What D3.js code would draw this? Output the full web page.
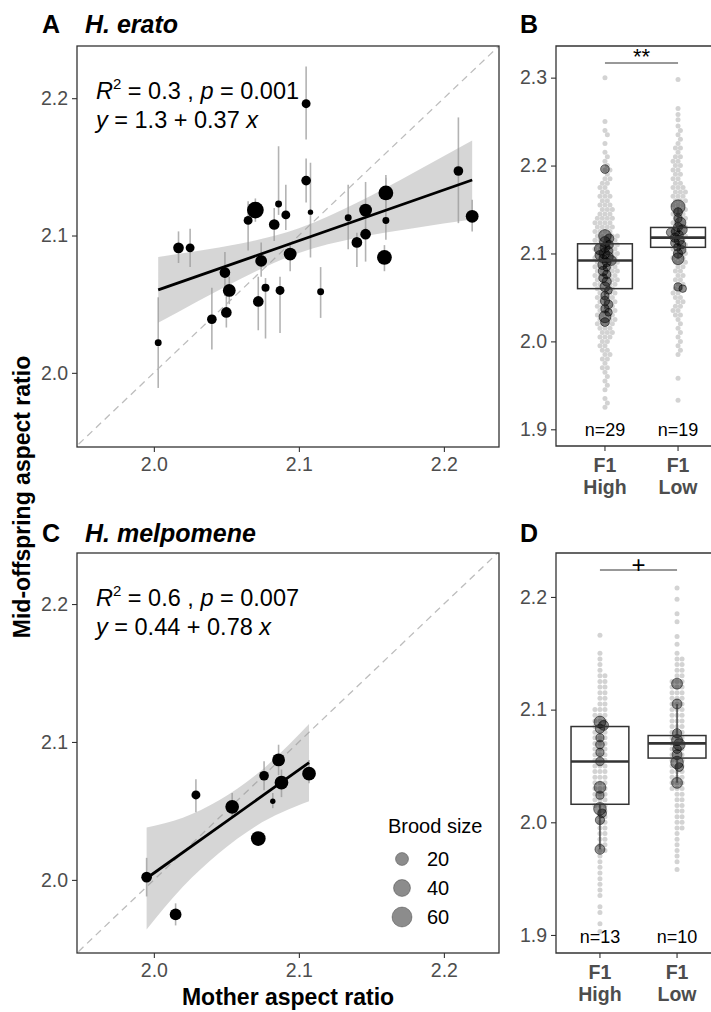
<!DOCTYPE html>
<html>
<head>
<meta charset="utf-8">
<script src="https://cdn.jsdelivr.net/npm/d3@7/dist/d3.min.js"></script>
<style>
  body { margin: 0; background: #fff; }
  svg { display: block; }
  text { font-family: "Liberation Sans", Arial, sans-serif; }
</style>
</head>
<body>
<svg id="fig" width="711" height="1012"></svg>
<script>
// ---------- Panel A: H. erato, family means (mother vs mid-offspring) ----------
const eratoMother    = [2.003, 2.017, 2.025, 2.040, 2.049, 2.050, 2.052, 2.065, 2.070, 2.072,
                        2.074, 2.077, 2.083, 2.086, 2.087, 2.091, 2.094, 2.105, 2.105, 2.108,
                        2.115, 2.134, 2.140, 2.146, 2.146, 2.159, 2.160, 2.160, 2.210, 2.2195];
const eratoOffspring = [2.022, 2.091, 2.091, 2.039, 2.073, 2.044, 2.060, 2.111, 2.1185, 2.052,
                        2.0815, 2.062, 2.108, 2.123, 2.060, 2.115, 2.0865, 2.196, 2.140, 2.117,
                        2.059, 2.113, 2.095, 2.1185, 2.101, 2.084, 2.111, 2.131, 2.147, 2.114];
const eratoLow       = [1.989, 2.080, 2.077, 2.017, 2.056, 2.033, 2.050, 2.089, 2.110, 2.031,
                        2.070, 2.025, 2.096, 2.115, 2.029, 2.104, 2.074, 2.170, 2.124, 2.084,
                        2.040, 2.090, 2.077, 2.104, 2.081, 2.074, 2.097, 2.120, 2.109, 2.103];
const eratoHigh      = [2.055, 2.103, 2.105, 2.062, 2.088, 2.056, 2.070, 2.125, 2.127, 2.070,
                        2.095, 2.069, 2.120, 2.165, 2.070, 2.137, 2.095, 2.223, 2.156, 2.153,
                        2.077, 2.137, 2.102, 2.139, 2.106, 2.093, 2.144, 2.142, 2.186, 2.126];
const eratoBrood     = [3, 12, 7, 9, 12, 12, 20, 7, 40, 12,
                        16, 5, 12, 3, 7, 7, 20, 7, 9, 1,
                        3, 3, 12, 20, 12, 29, 3, 29, 9, 20];
const eratoFitX  = [2.003, 2.2195];
const eratoFitY  = [2.0604, 2.1404];
const eratoBandX  = [2.003, 2.03, 2.06, 2.10, 2.14, 2.18, 2.2195];
const eratoBandLo = [2.0364, 2.0520, 2.0686, 2.0873, 2.0983, 2.1055, 2.1116];
const eratoBandHi = [2.0844, 2.0888, 2.0942, 2.1053, 2.1239, 2.1463, 2.1692];

// ---------- Panel C: H. melpomene ----------
const melpMother    = [1.995, 2.015, 2.029, 2.054, 2.072, 2.076, 2.086, 2.088, 2.082, 2.107];
const melpOffspring = [2.002, 1.975, 2.0616, 2.053, 2.030, 2.0755, 2.087, 2.0705, 2.057, 2.077];
const melpLow       = [1.988, 1.967, 2.049, 2.045, 2.030, 2.065, 2.076, 2.060, 2.052, 2.070];
const melpHigh      = [2.016, 1.983, 2.073, 2.063, 2.030, 2.086, 2.098, 2.080, 2.063, 2.087];
const melpBrood     = [12, 16, 7, 24, 29, 9, 20, 24, 1, 24];
const melpFitX  = [1.995, 2.107];
const melpFitY  = [2.0012, 2.085];
const melpBandX  = [1.995, 2.02, 2.045, 2.07, 2.107];
const melpBandLo = [1.964, 1.995, 2.0195, 2.0388, 2.057];
const melpBandHi = [2.038, 2.045, 2.0577, 2.0758, 2.113];

// ---------- Panels B and D: offspring (grey) and family means (dark) ----------
const groups = ['High', 'Low'];

// [value, number of offspring at that value]
const greyBHigh = [[2.300,1],[2.250,1],[2.240,1],[2.235,1],[2.225,1],[2.215,1],[2.210,1],[2.205,1],[2.200,1],
  [2.195,2],[2.190,1],[2.185,2],[2.180,2],[2.175,2],[2.170,2],[2.165,3],[2.160,2],[2.155,3],[2.150,3],
  [2.145,3],[2.140,4],[2.135,4],[2.130,4],[2.125,4],[2.120,5],[2.115,5],[2.110,5],[2.105,5],[2.100,5],
  [2.095,5],[2.090,5],[2.085,5],[2.080,5],[2.075,5],[2.070,5],[2.065,5],[2.060,4],[2.055,4],[2.050,4],
  [2.045,4],[2.040,4],[2.035,4],[2.030,4],[2.025,4],[2.020,4],[2.015,3],[2.010,3],[2.005,3],[2.000,2],
  [1.995,2],[1.990,2],[1.985,2],[1.980,2],[1.975,1],[1.970,2],[1.965,1],[1.960,1],[1.955,1],[1.950,1],
  [1.945,1],[1.935,1],[1.930,1],[1.925,1]];
const greyBLow = [[2.298,1],[2.265,1],[2.258,1],[2.252,1],[2.245,1],[2.240,1],[2.235,1],[2.230,1],[2.225,1],
  [2.220,2],[2.215,1],[2.210,2],[2.205,2],[2.200,2],[2.195,2],[2.190,2],[2.185,2],[2.180,2],[2.175,3],
  [2.170,3],[2.165,3],[2.160,3],[2.155,3],[2.150,3],[2.145,3],[2.140,3],[2.135,3],[2.130,3],[2.125,3],
  [2.120,3],[2.115,3],[2.110,3],[2.105,3],[2.100,3],[2.095,3],[2.090,3],[2.085,2],[2.080,2],[2.075,2],
  [2.070,2],[2.065,2],[2.060,2],[2.055,2],[2.050,2],[2.045,2],[2.040,2],[2.035,2],[2.030,2],[2.025,1],
  [2.020,1],[2.015,1],[2.010,1],[2.005,1],[2.000,1],[1.995,1],[1.990,1],[1.985,1],[1.958,1],[1.933,1]];
const greyDHigh = [[2.166,1],[2.150,1],[2.145,1],[2.140,1],[2.135,1],[2.130,2],[2.125,2],[2.120,2],[2.115,2],
  [2.110,2],[2.105,2],[2.100,3],[2.095,3],[2.090,3],[2.085,3],[2.080,3],[2.075,3],[2.070,3],[2.065,3],
  [2.060,3],[2.055,3],[2.050,3],[2.045,3],[2.040,3],[2.035,3],[2.030,3],[2.025,3],[2.020,3],[2.015,3],
  [2.010,2],[2.005,2],[2.000,2],[1.995,2],[1.990,2],[1.985,2],[1.980,2],[1.975,2],[1.970,1],[1.965,1],
  [1.960,1],[1.955,1],[1.950,1],[1.945,1],[1.940,1],[1.935,1],[1.925,1],[1.920,1],[1.910,1],[1.903,1]];
const greyDLow = [[2.208,1],[2.198,1],[2.185,1],[2.178,1],[2.165,1],[2.158,1],[2.150,1],[2.145,2],[2.140,2],
  [2.135,2],[2.130,2],[2.125,3],[2.120,3],[2.115,3],[2.110,3],[2.105,3],[2.100,3],[2.095,3],[2.090,3],
  [2.085,3],[2.080,3],[2.075,3],[2.070,3],[2.065,3],[2.060,3],[2.055,3],[2.050,3],[2.045,3],[2.040,3],
  [2.035,3],[2.030,3],[2.025,2],[2.020,2],[2.015,2],[2.010,2],[2.005,2],[2.000,2],[1.995,2],[1.990,1],
  [1.985,1],[1.980,1],[1.975,1],[1.970,1],[1.965,1],[1.958,1]];

const meanBHigh  = [2.196, 2.120, 2.117, 2.113, 2.110, 2.107, 2.105, 2.103, 2.100, 2.098,
                    2.096, 2.094, 2.092, 2.090, 2.087, 2.084, 2.080, 2.076, 2.072, 2.068,
                    2.062, 2.058, 2.052, 2.046, 2.042, 2.037, 2.033, 2.028, 2.022];
const broodBHigh = [10, 30, 12, 20, 8, 15, 25, 10, 18, 12, 20, 8, 15, 10, 12, 6, 14, 8, 10, 12,
                    15, 6, 8, 12, 10, 8, 6, 25, 10];
const meanBLow   = [2.153, 2.147, 2.140, 2.135, 2.130, 2.127, 2.124, 2.121, 2.118, 2.115,
                    2.112, 2.110, 2.107, 2.104, 2.100, 2.094, 2.062, 2.060, 2.125];
const broodBLow  = [40, 10, 8, 20, 12, 15, 10, 8, 12, 15, 10, 8, 6, 10, 12, 25, 8, 6, 10];
const meanDHigh  = [2.089, 2.086, 2.083, 2.069, 2.062, 2.054, 2.031, 2.024, 2.012, 2.008, 2.002, 1.976, 2.075];
const broodDHigh = [25, 15, 12, 10, 8, 10, 25, 8, 30, 10, 12, 15, 8];
const meanDLow   = [2.123, 2.105, 2.079, 2.073, 2.069, 2.065, 2.060, 2.053, 2.049, 2.035];
const broodDLow  = [20, 15, 12, 20, 25, 10, 15, 30, 10, 20];

// box stats: [lower whisker, q1, median, q3, upper whisker]
const boxBHigh = [2.0365, 2.060, 2.092, 2.111, 2.120];
const boxBLow  = [2.094, 2.107, 2.118, 2.1296, 2.153];
const boxDHigh = [1.976, 2.016, 2.054, 2.085, 2.089];
const boxDLow  = [2.035, 2.057, 2.070, 2.077, 2.105];

const nB = ['n=29', 'n=19'];
const nD = ['n=13', 'n=10'];
const legendBrood = [20, 40, 60];
const ticksScatter = [2.0, 2.1, 2.2];
const ticksB = [1.9, 2.0, 2.1, 2.2, 2.3];
const ticksD = [1.9, 2.0, 2.1, 2.2];

// ---------------------------------------------------------------------------
const svg = d3.select('#fig');
const INK = '#333333', TICK_TXT = '#4d4d4d', FONT = '"Liberation Sans", Arial, sans-serif';

// brood size -> radius (area-like scale, shared by all panels)
const rScale = d3.scaleLinear().domain([Math.sqrt(20), Math.sqrt(60)]).range([7, 10.5]);
const rad = v => rScale(Math.sqrt(v));

let clipId = 0;
function clipFor(box) {
  const id = 'clip' + (clipId++);
  svg.append('clipPath').attr('id', id).append('rect')
    .attr('x', box.l).attr('y', box.t).attr('width', box.r - box.l).attr('height', box.b - box.t);
  return `url(#${id})`;
}

function styleAxis(g, size) {
  g.attr('font-family', FONT).attr('font-size', size || 19.5);
  g.select('.domain').remove();
  g.selectAll('.tick line').attr('stroke', INK).attr('stroke-width', 1.1);
  g.selectAll('.tick text').attr('fill', TICK_TXT);
}

function frame(box) {
  svg.append('rect').attr('x', box.l).attr('y', box.t).attr('width', box.r - box.l).attr('height', box.b - box.t)
    .attr('stroke', INK).attr('stroke-width', 1.3).attr('fill', 'none');
}

function label(x, y, letter, title) {
  svg.append('text').attr('x', x).attr('y', y).attr('font-size', 25).attr('font-weight', 'bold').text(letter);
  if (title) svg.append('text').attr('x', x + 43).attr('y', y).attr('font-size', 25)
    .attr('font-weight', 'bold').attr('font-style', 'italic').text(title);
}

function scatterPanel(box, yDom, d, fit, band, stats) {
  const x = d3.scaleLinear().domain([1.947, 2.238]).range([box.l, box.r]);
  const y = d3.scaleLinear().domain(yDom).range([box.b, box.t]);
  const g = svg.append('g').attr('clip-path', clipFor(box));

  // 1:1 reference line
  g.append('line')
    .attr('x1', x(1.9)).attr('y1', y(1.9)).attr('x2', x(2.3)).attr('y2', y(2.3))
    .attr('stroke', '#bdbdbd').attr('stroke-width', 1.3).attr('stroke-dasharray', '7,5');

  // error bars
  g.append('g').selectAll('line').data(d.x).join('line')
    .attr('x1', (v) => x(v)).attr('x2', (v) => x(v))
    .attr('y1', (v, i) => y(d.lo[i])).attr('y2', (v, i) => y(d.hi[i]))
    .attr('stroke', '#b3b3b3').attr('stroke-width', 1.6);

  // confidence band + fit
  const area = d3.area().curve(d3.curveMonotoneX)
    .x((v) => x(v)).y0((v, i) => y(band.lo[i])).y1((v, i) => y(band.hi[i]));
  g.append('path').datum(band.x).attr('d', area).attr('fill', '#999999').attr('fill-opacity', 0.4);
  g.append('line')
    .attr('x1', x(fit.x[0])).attr('y1', y(fit.y[0])).attr('x2', x(fit.x[1])).attr('y2', y(fit.y[1]))
    .attr('stroke', '#000').attr('stroke-width', 2.8);

  // family means
  g.append('g').selectAll('circle').data(d.x).join('circle')
    .attr('cx', (v) => x(v)).attr('cy', (v, i) => y(d.y[i]))
    .attr('r', (v, i) => rad(d.n[i]) - 0.6).attr('fill', '#000');

  // axes
  const ya = svg.append('g').attr('transform', `translate(${box.l},0)`)
    .call(d3.axisLeft(y).tickValues(ticksScatter).tickFormat(d3.format('.1f')).tickSize(5).tickPadding(4));
  styleAxis(ya);
  const xa = svg.append('g').attr('transform', `translate(0,${box.b})`)
    .call(d3.axisBottom(x).tickValues(ticksScatter).tickFormat(d3.format('.1f')).tickSize(5).tickPadding(5));
  styleAxis(xa);
  frame(box);

  // regression text
  const t1 = svg.append('text').attr('x', box.l + 19).attr('y', stats.y).attr('font-size', 23.5);
  t1.append('tspan').attr('font-style', 'italic').text('R');
  t1.append('tspan').attr('dy', -10).attr('font-size', 15).text('2');
  t1.append('tspan').attr('dy', 10).text(` = ${stats.r2} , `);
  t1.append('tspan').attr('font-style', 'italic').text('p');
  t1.append('tspan').text(` = ${stats.p}`);
  const t2 = svg.append('text').attr('x', box.l + 19).attr('y', stats.y + 29).attr('font-size', 23.5);
  t2.append('tspan').attr('font-style', 'italic').text('y');
  t2.append('tspan').text(` = ${stats.a} + ${stats.b} `);
  t2.append('tspan').attr('font-style', 'italic').text('x');
}

// simple beeswarm: each point takes the smallest horizontal offset that does not collide
function swarm(vals, y, cx, r) {
  const pts = vals.map((v, i) => ({ v, i, y: y(v) })).sort((a, b) => a.y - b.y);
  const placed = [];
  const dd = 2 * r;
  pts.forEach((p) => {
    const cand = [0];
    placed.forEach((q) => {
      const dy = p.y - q.y;
      if (Math.abs(dy) < dd) {
        const dx = Math.sqrt(dd * dd - dy * dy);
        cand.push(q.dx + dx, q.dx - dx);
      }
    });
    cand.sort((a, b) => Math.abs(a) - Math.abs(b));
    p.dx = cand.find((c) => placed.every((q) => {
      const ex = c - q.dx, ey = p.y - q.y;
      return ex * ex + ey * ey >= dd * dd - 1e-6;
    }));
    placed.push(p);
  });
  placed.forEach((p) => { p.x = cx + p.dx; });
  return placed;
}

function expand(pairs) {
  const out = [];
  pairs.forEach(([v, c]) => { for (let k = 0; k < c; k++) out.push(v); });
  return out;
}

function boxPanel(box, xRange, xPad, yDom, ticks, grey, means, broods, stats, nLab, sig) {
  const x = d3.scalePoint().domain(groups).range(xRange).padding(xPad);
  const y = d3.scaleLinear().domain(yDom).range([box.b, box.t]);
  const bw = x.step() * 0.75;
  const g = svg.append('g').attr('clip-path', clipFor({ l: box.l, r: 711, t: box.t, b: box.b }));

  groups.forEach((grp, gi) => {
    const cx = x(grp);
    const gp = swarm(expand(grey[gi]), y, cx, 2.5);
    g.append('g').selectAll('circle').data(gp).join('circle')
      .attr('cx', (p) => p.x).attr('cy', (p) => p.y).attr('r', 2.5).attr('fill', '#d3d3d3');

    const mp = swarm(means[gi], y, cx, 2.5);
    g.append('g').selectAll('circle').data(mp).join('circle')
      .attr('cx', (p) => p.x).attr('cy', (p) => p.y).attr('r', (p) => rad(broods[gi][p.i]) * 0.78)
      .attr('fill', '#000').attr('fill-opacity', 0.42)
      .attr('stroke', '#000').attr('stroke-opacity', 0.5).attr('stroke-width', 1);

    const s = stats[gi];
    const bg = g.append('g').attr('stroke', INK).attr('fill', 'none');
    bg.append('line').attr('x1', cx).attr('x2', cx).attr('y1', y(s[0])).attr('y2', y(s[1])).attr('stroke-width', 1.3);
    bg.append('line').attr('x1', cx).attr('x2', cx).attr('y1', y(s[3])).attr('y2', y(s[4])).attr('stroke-width', 1.3);
    bg.append('rect').attr('x', cx - bw / 2).attr('width', bw)
      .attr('y', y(s[3])).attr('height', y(s[1]) - y(s[3])).attr('stroke-width', 1.5);
    bg.append('line').attr('x1', cx - bw / 2).attr('x2', cx + bw / 2)
      .attr('y1', y(s[2])).attr('y2', y(s[2])).attr('stroke-width', 2.6);

    svg.append('text').attr('x', cx).attr('y', nLab.y).attr('text-anchor', 'middle')
      .attr('font-size', 18).text(nLab.text[gi]);

    // two-line category label
    ['F1', grp].forEach((line, li) => {
      svg.append('text').attr('x', cx).attr('y', box.b + 26 + li * 22).attr('text-anchor', 'middle')
        .attr('font-size', 19.5).attr('font-weight', 'bold').attr('fill', TICK_TXT).text(line);
    });
  });

  // significance bracket
  svg.append('line').attr('x1', x(groups[0])).attr('x2', x(groups[1]))
    .attr('y1', sig.y).attr('y2', sig.y).attr('stroke', INK).attr('stroke-width', 1);
  svg.append('text').attr('x', (x(groups[0]) + x(groups[1])) / 2).attr('y', sig.ty)
    .attr('text-anchor', 'middle').attr('font-size', sig.size).text(sig.text);

  const ya = svg.append('g').attr('transform', `translate(${box.l},0)`)
    .call(d3.axisLeft(y).tickValues(ticks).tickFormat(d3.format('.1f')).tickSize(5).tickPadding(4));
  styleAxis(ya);
  svg.append('path').attr('d', `M${box.r},${box.t}H${box.l}V${box.b}H${box.r}`)
    .attr('stroke', INK).attr('stroke-width', 1.3).attr('fill', 'none');
  groups.forEach((grp) => {
    svg.append('line').attr('x1', x(grp)).attr('x2', x(grp)).attr('y1', box.b).attr('y2', box.b + 5)
      .attr('stroke', INK).attr('stroke-width', 1.1);
  });
}

// ---------- draw ----------
svg.attr('font-family', FONT);

const boxA = { l: 77, r: 499, t: 46, b: 447 };
const boxC = { l: 77, r: 499, t: 553, b: 953 };
const boxB = { l: 556, r: 712, t: 46, b: 446 };
const boxD = { l: 556, r: 712, t: 553, b: 953 };

label(42, 33, 'A', 'H. erato');
label(520, 33, 'B');
label(42, 542, 'C', 'H. melpomene');
label(520, 542, 'D');

scatterPanel(boxA, [1.946, 2.238],
  { x: eratoMother, y: eratoOffspring, lo: eratoLow, hi: eratoHigh, n: eratoBrood },
  { x: eratoFitX, y: eratoFitY },
  { x: eratoBandX, lo: eratoBandLo, hi: eratoBandHi },
  { r2: '0.3', p: '0.001', a: '1.3', b: '0.37', y: 99 });

scatterPanel(boxC, [1.947, 2.237],
  { x: melpMother, y: melpOffspring, lo: melpLow, hi: melpHigh, n: melpBrood },
  { x: melpFitX, y: melpFitY },
  { x: melpBandX, lo: melpBandLo, hi: melpBandHi },
  { r2: '0.6', p: '0.007', a: '0.44', b: '0.78', y: 606 });

boxPanel(boxB, [556, 727], 0.67, [1.881, 2.336], ticksB,
  [greyBHigh, greyBLow], [meanBHigh, meanBLow], [broodBHigh, broodBLow],
  [boxBHigh, boxBLow], { y: 436, text: nB }, { y: 63, ty: 64, text: '**', size: 22 });

boxPanel(boxD, [556, 721], 0.57, [1.884, 2.239], ticksD,
  [greyDHigh, greyDLow], [meanDHigh, meanDLow], [broodDHigh, broodDLow],
  [boxDHigh, boxDLow], { y: 943, text: nD }, { y: 570, ty: 573, text: '+', size: 24 });

// legend (brood size)
const lg = svg.append('g');
lg.append('text').attr('x', 388).attr('y', 833).attr('font-size', 20).text('Brood size');
lg.selectAll('circle').data(legendBrood).join('circle')
  .attr('cx', 402).attr('cy', (v, i) => 859 + i * 29).attr('r', (v) => rad(v) - 0.5)
  .attr('fill', '#000').attr('fill-opacity', 0.45).attr('stroke', '#000').attr('stroke-opacity', 0.3);
lg.selectAll('text.lab').data(legendBrood).join('text').attr('class', 'lab')
  .attr('x', 427).attr('y', (v, i) => 859 + i * 29).attr('dy', '0.35em').attr('font-size', 20).text((v) => v);

// axis titles
svg.append('text').attr('transform', 'translate(30,497) rotate(-90)').attr('text-anchor', 'middle')
  .attr('font-size', 23).attr('font-weight', 'bold').text('Mid-offspring aspect ratio');
svg.append('text').attr('x', 288).attr('y', 1005).attr('text-anchor', 'middle')
  .attr('font-size', 23).attr('font-weight', 'bold').text('Mother aspect ratio');
</script>
</body>
</html>
